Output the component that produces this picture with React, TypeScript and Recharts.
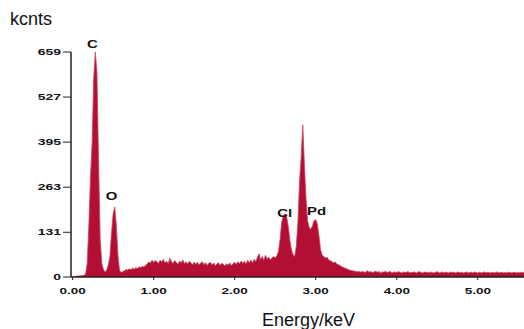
import React from "react";
import { AreaChart, Area, XAxis, YAxis, ReferenceDot } from "recharts";

// counts per 0.02 keV channel
const lowCounts = [
  0, 0, 2, 3, 3, 4, 4, 5, 8, 40,
  150, 290, 390, 580, 659, 600, 340, 110, 40, 22,
  15, 20, 35, 60, 130, 185, 205, 150, 60, 18,
  14,
];
const midCounts = [
  16, 18, 22, 20, 24, 21, 26, 23, 27, 25,
  30, 27, 32, 29, 34, 38, 44, 41, 49, 43,
  48, 45, 40, 49, 44, 52, 41, 46, 39, 55,
  44, 40, 48, 43, 37, 47, 42, 50, 39, 45,
  38, 46, 41, 36, 44, 37, 43, 35, 41, 45,
  36, 42, 34, 40, 43, 35, 41, 33, 38, 42,
  34, 40, 37, 32, 39, 35, 41, 34, 39, 43,
  37, 45, 39, 47, 40, 46, 38, 49, 42, 50,
  41, 52, 45, 57, 68, 51, 60, 49, 64, 53,
  58, 50, 56, 60, 56,
];
const peakCounts = [
  62, 75, 110, 160, 180, 185, 178, 150, 110, 80,
  66, 60, 90, 160, 280, 350, 445, 330, 230, 165,
  145, 140, 150, 165, 168, 155, 120, 80, 64, 60,
  56, 58, 50, 48, 45, 42, 44, 38, 36, 34,
  30, 28, 26, 24, 22, 20, 19, 18, 17, 16,
];
const tailCounts = [
  15, 16, 14, 17, 13, 15, 18, 14, 16, 13,
  15, 17, 14, 16, 12, 15, 14, 17, 13, 15,
  16, 12, 14, 15, 13, 16, 14, 12, 15, 13,
  14, 16, 12, 14, 13, 15, 12, 14, 16, 13,
  12, 15, 13, 14, 12, 15, 13, 12, 14, 16,
  12, 13, 15, 12, 14, 13, 12, 15, 13, 14,
  12, 13, 15, 12, 14, 12, 13, 15, 12, 13,
  14, 12, 15, 13, 12, 14, 12, 13, 15, 12,
  14, 13, 12, 14, 12, 13, 15, 12, 13, 14,
  12, 13, 12, 14, 13, 12, 13, 14, 12, 13,
  12, 14, 13, 12,
];
const channelWidth = 0.02;

const xTicks = [0, 1, 2, 3, 4, 5];
const yTicks = [0, 131, 263, 395, 527, 659];

const peakNames = ["C", "O", "Cl", "Pd"];
const peakEnergies = [0.245, 0.48, 2.617, 3.01];
const peakLabelCounts = [680, 237, 187, 193];

const counts = [...lowCounts, ...midCounts, ...peakCounts, ...tailCounts];
const data = counts.map((c, i) => ({
  energy: Number((i * channelWidth).toFixed(2)),
  count: c,
}));

const FONT = '"Liberation Sans", Arial, sans-serif';

const XTick = (props: any) => {
  const { x, y, payload } = props;
  return (
    <g transform={`translate(${x},${y + 12}) scale(1.5,1)`}>
      <text x={0} y={0} textAnchor="middle" fontFamily={FONT} fontWeight="bold" fontSize={9} fill="#111">
        {Number(payload.value).toFixed(2)}
      </text>
    </g>
  );
};

const YTick = (props: any) => {
  const { x, y, payload } = props;
  return (
    <g transform={`translate(${x},${y}) scale(1.55,1)`}>
      <text x={0} y={0} dy="0.35em" textAnchor="end" fontFamily={FONT} fontWeight="bold" fontSize={9} fill="#111">
        {payload.value}
      </text>
    </g>
  );
};

const PeakLabel = (props: any) => {
  const { viewBox, text } = props;
  const cx = viewBox.x + (viewBox.width || 0) / 2;
  const cy = viewBox.y + (viewBox.height || 0) / 2;
  return (
    <g transform={`translate(${cx},${cy}) scale(1.5,1)`}>
      <text x={0} y={0} dy="0.35em" textAnchor="middle" fontFamily={FONT} fontWeight="bold" fontSize={10} fill="#111">
        {text}
      </text>
    </g>
  );
};

export default function App() {
  return (
    <div style={{ position: "absolute", left: 0, top: 0, width: 524, height: 329, background: "#fff", fontFamily: FONT }}>
      <div style={{ position: "absolute", left: 10, top: 10, fontSize: 18, lineHeight: "18px", color: "#111" }}>
        kcnts
      </div>
      <AreaChart width={524} height={329} data={data} margin={{ top: 52, right: 0, bottom: 0, left: 0 }}>
        <XAxis
          type="number"
          dataKey="energy"
          domain={[-0.02, 5.57]}
          allowDataOverflow
          ticks={xTicks}
          height={52}
          tickSize={3}
          tick={<XTick />}
          axisLine={{ stroke: "#222", strokeWidth: 1.5 }}
          tickLine={{ stroke: "#222" }}
        />
        <YAxis
          type="number"
          domain={[0, 659]}
          allowDataOverflow
          ticks={yTicks}
          width={71}
          tickSize={8}
          tick={<YTick />}
          axisLine={{ stroke: "#222", strokeWidth: 1.5 }}
          tickLine={{ stroke: "#222" }}
        />
        <Area
          type="linear"
          dataKey="count"
          stroke="#c9445c"
          strokeWidth={0.8}
          fill="#b30f35"
          fillOpacity={1}
          isAnimationActive={false}
        />
        {peakNames.map((name, i) => (
          <ReferenceDot
            key={name}
            x={peakEnergies[i]}
            y={peakLabelCounts[i]}
            r={1}
            fill="none"
            stroke="none"
            ifOverflow="visible"
            label={<PeakLabel text={name} />}
          />
        ))}
      </AreaChart>
      <div style={{ position: "absolute", left: 262, top: 311, fontSize: 18, lineHeight: "18px", color: "#111" }}>
        Energy/keV
      </div>
    </div>
  );
}
